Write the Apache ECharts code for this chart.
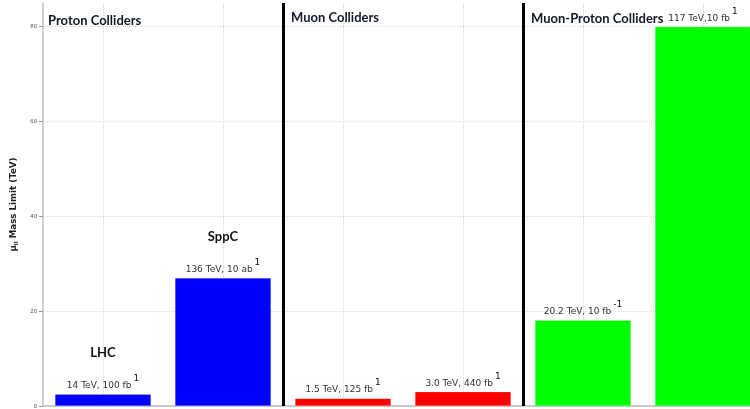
<!DOCTYPE html>
<html>
<head>
<meta charset="utf-8">
<script src="https://cdn.jsdelivr.net/npm/echarts@6/dist/echarts.min.js"></script>
<style>html,body{margin:0;padding:0;background:#fff}#c{width:750px;height:409px}</style>
</head>
<body>
<div id="c"></div>
<script>
// Data
var categories = ["LHC", "SppC", "MuC 1.5", "MuC 3.0", "LHmuC", "muTRISTAN"];
var massLimit = [2.5, 27.0, 1.6, 3.0, 18.1, 80.0];
var barNames = ["LHC", "SppC", "", "", "", ""];
var energyLabels = ["14 TeV, 100 fb", "136 TeV, 10 ab", "1.5 TeV, 125 fb", "3.0 TeV, 440 fb", "20.2 TeV, 10 fb", "117 TeV,10 fb"];
var supLabels = ["1", "1", "1", "1", "-1", "1"];
var barColors = ["#0000ff", "#0000ff", "#ff0000", "#ff0000", "#00ff00", "#00ff00"];
var groupTitles = ["Proton Colliders", "Muon Colliders", "Muon-Proton Colliders"];
var groupBoundaries = [2, 4];
var yTicks = [0, 20, 40, 60, 80];

var chart = echarts.init(document.getElementById('c'));
var titleLeft = [43, 286, 526];
var titleTop = [9, 6, 7];

var option = {
  animation: false,
  backgroundColor: '#fff',
  title: groupTitles.map(function (t, i) {
    return { text: t, left: titleLeft[i], top: titleTop[i],
      textStyle: { fontFamily: 'Lato', fontWeight: 'bold', fontSize: 13, color: '#111827' } };
  }),
  grid: { left: 43, top: 3, right: -13, bottom: 3, containLabel: false, outerBoundsMode: 'none' },
  xAxis: [{
    type: 'category', data: categories,
    axisLine: { lineStyle: { color: '#c8c8c8', width: 2 } },
    axisTick: { show: false }, axisLabel: { show: false },
    splitLine: { show: true, alignWithLabel: true, lineStyle: { type: 'dotted', color: '#d8d8d8' } }
  }, {
    type: 'value', min: 0, max: categories.length, show: false
  }],
  yAxis: {
    type: 'value', min: 0, max: 85, interval: 20,
    name: '{m|μ}{sub|ll}{m| Mass Limit (TeV)}', nameLocation: 'middle', nameGap: 21,
    nameTextStyle: { rich: {
      m: { fontFamily: 'DejaVu Sans', fontWeight: 'bold', fontSize: 8.7, color: '#222' },
      sub: { fontFamily: 'DejaVu Sans', fontWeight: 'bold', fontSize: 5.5, color: '#222', padding: [6, 0, 0, 0] }
    } },
    axisLine: { show: true, lineStyle: { color: '#c0c0c0', width: 1.5 } },
    axisTick: { show: true, length: 4, lineStyle: { color: '#999' } },
    axisLabel: { fontSize: 6, color: '#555', margin: 6, showMaxLabel: false,
      formatter: function (v) { return yTicks.indexOf(v) >= 0 ? String(v) : ''; } },
    splitLine: { showMaxLine: false, lineStyle: { type: 'dotted', color: '#d8d8d8' } }
  },
  series: [{
    type: 'bar', barWidth: '80%',
    data: massLimit.map(function (v, i) {
      return { value: v, itemStyle: { color: barColors[i], borderColor: 'rgba(255,255,255,0.35)', borderWidth: 0.5 } };
    }),
    label: {
      show: true, position: 'top', distance: -3,
      formatter: function (p) {
        var i = p.dataIndex;
        var s = '{t|' + energyLabels[i] + '}{s|' + supLabels[i] + '}';
        if (barNames[i]) s = '{n|' + barNames[i] + '}\n' + s;
        return s;
      },
      rich: {
        n: { fontFamily: 'Lato', fontWeight: 'bold', fontSize: 13, color: '#111', lineHeight: 42 },
        t: { fontFamily: 'DejaVu Sans', fontSize: 9, color: '#333', lineHeight: 13 },
        s: { fontFamily: 'DejaVu Sans', fontSize: 9, color: '#111', padding: [0, 0, 14, 2] }
      }
    }
  }, {
    type: 'scatter', xAxisIndex: 1, data: [], silent: true,
    markLine: {
      symbol: 'none', silent: true, label: { show: false },
      lineStyle: { color: '#000', width: 3, type: 'solid' },
      data: groupBoundaries.map(function (b) { return { xAxis: b }; })
    }
  }]
};
chart.setOption(option);
</script>
</body>
</html>
